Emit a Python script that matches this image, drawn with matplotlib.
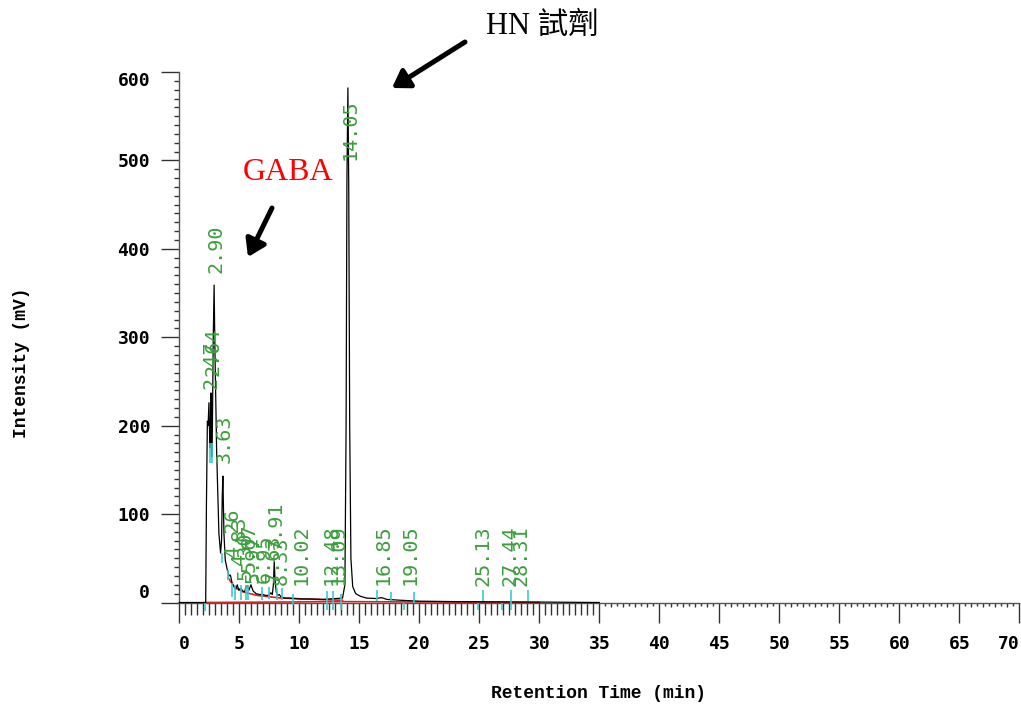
import numpy as np
import matplotlib
matplotlib.use("Agg")
import matplotlib.pyplot as plt
from matplotlib.patches import FancyArrowPatch

# ---------------- data ----------------
trace_t = [0, 2.20, 2.26, 2.34, 2.40, 2.47, 2.55, 2.59, 2.64, 2.70, 2.76, 2.83, 2.90,
           2.97, 3.11, 3.30, 3.44, 3.52, 3.58, 3.63, 3.72, 3.83, 4.00, 4.15, 4.26,
           4.40, 4.55, 4.70, 4.83, 4.95, 5.10, 5.30, 5.45, 5.55, 5.67, 5.80, 5.97,
           6.15, 6.40, 6.70, 6.95, 7.20, 7.45, 7.63, 7.75, 7.84, 7.91, 7.98, 8.08,
           8.20, 8.33, 8.50, 8.80, 9.20, 10.02, 11.0, 12.0, 12.48, 13.09, 13.60,
           13.80, 13.90, 13.97, 14.05, 14.12, 14.20, 14.30, 14.45, 14.70, 15.10,
           15.60, 16.40, 16.85, 17.30, 18.50, 20.0, 23.0, 26.0, 30.0, 35.0]
trace_mv = [0, 0, 110, 205, 200, 226, 175, 190, 237, 165, 200, 300, 359,
            285, 172, 78, 56, 70, 120, 143, 78, 48, 37, 30, 31,
            22, 18, 15, 20, 14, 16, 13, 12, 18, 19, 14, 20,
            13, 10, 9, 9, 8, 8, 11, 9, 20, 46, 25, 12,
            8, 9, 6, 5, 5, 4, 4, 3.5, 4, 4.5, 5,
            20, 200, 480, 582, 470, 200, 50, 18, 10, 7,
            5, 4.5, 5.5, 3.5, 2.5, 1.5, 1, 0.8, 0.5, 0]

peak_labels = ["2.47", "2.64", "2.90", "3.63", "4.26", "4.83", "5.30", "5.67", "5.97",
               "6.95", "7.63", "7.91", "8.33", "10.02", "12.48", "13.09", "14.05",
               "16.85", "19.05", "25.13", "27.44", "28.31"]
peak_times = [2.47, 2.64, 2.90, 3.63, 4.26, 4.83, 5.30, 5.67, 5.97,
              6.95, 7.63, 7.91, 8.33, 10.02, 12.48, 13.09, 14.05,
              16.85, 19.05, 25.13, 27.44, 28.31]
label_base_mv = [242, 256, 373, 158, 51, 42, 25, 34, 22,
                 22, 22, 59, 20, 20, 20, 20, 500,
                 20, 20, 19, 19, 19]

event_t = [2.14, 2.55, 2.75, 3.53, 4.08, 4.36, 4.64, 5.11, 5.56, 5.75, 6.86, 7.50,
           8.17, 8.53, 9.50, 12.28, 12.78, 13.45, 16.45, 17.60, 18.70, 19.56, 24.90,
           25.28, 26.90, 27.60, 29.03]
event_lo = [-10, 158, 158, 45, 25, 6, 3, 3, 3, 3, 3, 4,
            3, 3, -3, -8, -8, -8, 2, 2, -8, 0, -8,
            2, -8, -8, 2]
event_hi = [0, 180, 180, 56, 37, 22, 20, 20, 20, 20, 18, 18,
            16, 16, 10, 13, 13, 10, 14, 12, 0, 12, 0,
            14, 0, 14, 14]

base_main_t = [2.20, 13.6, 30.0]
base_main_mv = [0, 1, 0]
base_sub_t = [4.05, 4.65, 5.30, 6.50, 8.50, 12.50, 13.60]
base_sub_mv = [28, 17, 12, 8, 5, 3, 2.5]

x_ticks = list(range(0, 71, 5))
y_ticks = list(range(0, 601, 100))

# ---------------- figure ----------------
W, H = 1021, 709
fig = plt.figure(figsize=(W / 100, H / 100), dpi=100)
ax = fig.add_axes([179.3 / W, 106.5 / H, 840 / W, 530.5 / H])
ax.set_xlim(0, 70)
ax.set_ylim(0, 600)

for s in ("top", "right"):
    ax.spines[s].set_visible(False)
for s in ("left", "bottom"):
    ax.spines[s].set_color("#555555")
    ax.spines[s].set_linewidth(1.0)

tick_font = dict(family="DejaVu Sans Mono", weight="bold", size=13)

ax.set_xticks(x_ticks)
ax.set_xticklabels([str(v) for v in x_ticks], fontdict=tick_font)
ax.set_yticks(y_ticks)
ax.set_yticklabels([str(v) for v in y_ticks], fontdict=tick_font)
ax.set_xticks([v for v in np.arange(0.5, 35.0, 0.5) if v % 5 != 0], minor=True)
ax.set_yticks([v for v in range(10, 600, 10) if v % 100 != 0], minor=True)

ax.tick_params(axis="x", which="major", direction="out", length=14.4, width=1.0,
               color="#333333", pad=9)
ax.tick_params(axis="x", which="minor", direction="out", length=8.5, width=1.0,
               color="#333333")
ax.tick_params(axis="y", which="major", direction="out", length=13, width=1.0,
               color="#333333", pad=8)
ax.tick_params(axis="y", which="minor", direction="out", length=3.6, width=1.0,
               color="#333333")

xl = ax.get_xticklabels()
xl[0].set_horizontalalignment("left")
xl[-1].set_horizontalalignment("right")
yl = ax.get_yticklabels()
yl[0].set_verticalalignment("bottom")
yl[-1].set_verticalalignment("top")

# short ticks on the right half
right_int = [v for v in range(36, 70) if v % 5 != 0]
right_half = list(np.arange(35.5, 70.0, 1.0))
ax.plot(right_int, [0] * len(right_int), ls="none", marker=3, markersize=3.2,
        mew=1.0, color="#333333", clip_on=False)
ax.plot(right_half, [0] * len(right_half), ls="none", marker=3, markersize=2.0,
        mew=1.0, color="#333333", clip_on=False)

# baselines (red)
ax.plot(base_main_t, base_main_mv, color="#e02020", lw=1.2, clip_on=False, zorder=2)
ax.plot(base_sub_t, base_sub_mv, color="#e02020", lw=1.2, clip_on=False, zorder=2)

# trace
ax.plot(trace_t, trace_mv, color="black", lw=0.9, clip_on=False, zorder=3)

# integration event marks (cyan)
ax.vlines(event_t, event_lo, event_hi, color="#3ec8cc", lw=1.2, clip_on=False, zorder=4)

# peak labels
for lab, t, yb in zip(peak_labels, peak_times, label_base_mv):
    ax.text(t + 0.15, yb, lab, rotation=90, ha="center", va="bottom",
            family="DejaVu Sans Mono", size=14.5, color="#3c9e3c", zorder=5)

# axis titles
lab_font = dict(family="Liberation Mono", weight="bold", size=13)
fig.text(598 / W, 1 - 693 / H, "Retention Time (min)", ha="center", va="center", **lab_font)
fig.text(22 / W, 1 - 363 / H, "Intensity (mV)", ha="center", va="center",
         rotation=90, **lab_font)

# annotations
fig.text(542 / W, 1 - 27 / H, "HN 試劑", ha="center", va="center", size=22,
         family=["Liberation Serif", "Noto Sans CJK TC"], color="black")
fig.text(288 / W, 1 - 172 / H, "GABA", ha="center", va="center", size=23,
         family="Liberation Serif", color="red")

def arrow(x0, y0, x1, y1):
    a = FancyArrowPatch((x0 / W, 1 - y0 / H), (x1 / W, 1 - y1 / H),
                        transform=fig.transFigure,
                        arrowstyle="-|>,head_length=10,head_width=6.5",
                        lw=3.6, color="black", shrinkA=0, shrinkB=0)
    fig.add_artist(a)

arrow(465, 42, 392, 88)
arrow(272, 208, 248, 257)

fig.savefig("out.png", dpi=100)
